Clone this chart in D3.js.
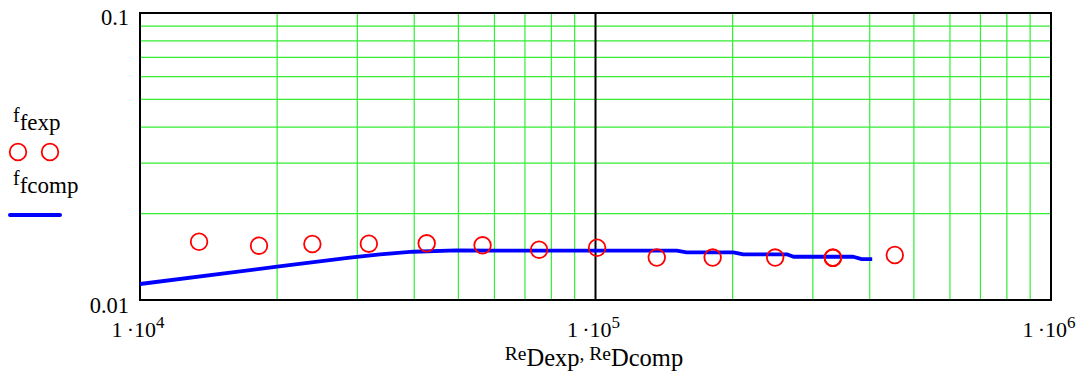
<!DOCTYPE html>
<html>
<head>
<meta charset="utf-8">
<script src="https://cdn.jsdelivr.net/npm/d3@7"></script>
<style>
  html, body { margin: 0; padding: 0; background: #fff; }
  svg { display: block; }
</style>
</head>
<body>
<svg id="chart" width="1079" height="385"></svg>
<script>
// ---- data ----
const expRe = [13480, 18250, 23900, 31800, 42600, 56500, 75200, 100800, 136300, 180800, 248000, 332000, 332000, 454000];
const expF  = [0.01596, 0.01546, 0.01567, 0.01571, 0.01576, 0.01551, 0.01497, 0.01521, 0.01406, 0.01406, 0.01406, 0.01406, 0.01402, 0.01435];

const compRe = [10000, 20000, 28900, 33650, 39800, 49600, 60000, 100000, 150800, 158500, 200700, 211000, 263000, 272000, 368000, 384000, 405000];
const compF  = [0.01137, 0.01306, 0.01404, 0.01443, 0.01473, 0.01488, 0.01487, 0.01486, 0.01485, 0.01466, 0.01466, 0.01443, 0.01443, 0.01415, 0.01415, 0.01389, 0.01389];

const xDomain = [1e4, 1e6];
const yDomain = [0.01, 0.1];
const xTickExps = [4, 5, 6];
const yTickLabels = ["0.01", "0.1"];

// ---- layout ----
const FONT = "'Liberation Serif', 'Times New Roman', 'DejaVu Serif', serif";
const svg = d3.select("#chart");
const L = 140, R = 1051, T = 13, B = 300;
const x = d3.scaleLog().domain(xDomain).range([L, R]);
const y = d3.scaleLog().domain(yDomain).range([B, T]);

const green = "#33ee33";

// minor grid
const xMinor = [];
for (let d = 1e4; d < 1e6; d *= 10) for (let k = 2; k <= 9; k++) xMinor.push(d * k);
const yMinor = [];
for (let k = 2; k <= 9; k++) yMinor.push(0.01 * k);

svg.append("g").selectAll("line").data(xMinor).join("line")
  .attr("x1", d => x(d)).attr("x2", d => x(d))
  .attr("y1", T).attr("y2", B)
  .attr("stroke", green).attr("stroke-width", 1.2);
svg.append("g").selectAll("line").data(yMinor).join("line")
  .attr("x1", L).attr("x2", R)
  .attr("y1", d => y(d)).attr("y2", d => y(d))
  .attr("stroke", green).attr("stroke-width", 1.2);

// major interior grid (black)
svg.append("line")
  .attr("x1", x(1e5)).attr("x2", x(1e5)).attr("y1", T).attr("y2", B)
  .attr("stroke", "#000").attr("stroke-width", 2);

// frame
svg.append("rect").attr("x", L).attr("y", T).attr("width", R - L).attr("height", B - T)
  .attr("fill", "none").attr("stroke", "#000").attr("stroke-width", 2);

// computed line
const line = d3.line().x(d => x(d[0])).y(d => y(d[1]));
svg.append("path")
  .datum(compRe.map((r, i) => [r, compF[i]]))
  .attr("d", line)
  .attr("fill", "none").attr("stroke", "#0000ff").attr("stroke-width", 3.8)
  .attr("stroke-linejoin", "round");

// experimental points
svg.append("g").selectAll("circle").data(expRe.map((r, i) => [r, expF[i]])).join("circle")
  .attr("cx", d => x(d[0])).attr("cy", d => y(d[1])).attr("r", 8.3)
  .attr("fill", "none").attr("stroke", "#ff0000").attr("stroke-width", 1.8);

function txt(xp, yp, size, anchor) {
  return svg.append("text").attr("x", xp).attr("y", yp)
    .attr("font-family", FONT).attr("font-size", size + "px")
    .attr("text-anchor", anchor || "start").attr("fill", "#000");
}

// y tick labels
txt(129, 25, 22.5, "end").text(yTickLabels[1]);
txt(129, 313, 22.5, "end").text(yTickLabels[0]);

// x tick labels
xTickExps.forEach(e => {
  const t = txt(x(Math.pow(10, e)) - 2, 337, 22, "middle");
  t.append("tspan").text("1\u2009\u00B710");
  t.append("tspan").attr("font-size", "17px").attr("dy", -9).text(String(e));
});

// x axis title
const xt = txt(594, 360, 19.5, "middle");
xt.append("tspan").text("Re");
xt.append("tspan").attr("font-size", "24.5px").attr("dy", 6).text("Dexp");
xt.append("tspan").attr("dy", -6).text(", ");
xt.append("tspan").text("Re");
xt.append("tspan").attr("font-size", "24.5px").attr("dy", 6).text("Dcomp");

// legend
function legendLabel(yb, sub) {
  const t = txt(13, yb, 20);
  t.append("tspan").text("f");
  t.append("tspan").attr("font-size", "23px").attr("dy", 8).text(sub);
}
legendLabel(122, "fexp");
legendLabel(185, "fcomp");
svg.append("g").selectAll("circle").data([18, 50]).join("circle")
  .attr("cx", d => d).attr("cy", 152).attr("r", 8.3)
  .attr("fill", "none").attr("stroke", "#ff0000").attr("stroke-width", 1.8);
svg.append("line").attr("x1", 10).attr("x2", 60).attr("y1", 215).attr("y2", 215)
  .attr("stroke", "#0000ff").attr("stroke-width", 4).attr("stroke-linecap", "round");
</script>
</body>
</html>
